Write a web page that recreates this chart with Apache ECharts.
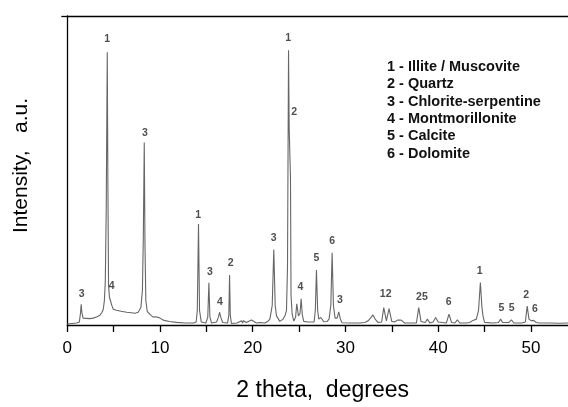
<!DOCTYPE html>
<html>
<head>
<meta charset="utf-8">
<script src="https://cdn.jsdelivr.net/npm/echarts@6/dist/echarts.min.js"></script>
<style>
html,body{margin:0;padding:0;background:#fff;}
#chart{width:568px;height:407px;}
</style>
</head>
<body>
<div id="chart"></div>
<script>
var twoTheta = [0.0,0.5,1.0,1.3,1.42,1.5,1.58,1.7,1.91,2.4,2.8,3.2,3.52,3.75,3.88,4.0,4.1,4.2,4.31,4.38,4.45,4.55,4.65,4.8,4.96,5.3,5.8,6.4,6.9,7.3,7.65,7.94,8.1,8.2,8.3,8.38,8.47,8.62,9.0,9.27,9.5,9.7,9.9,10.34,11.0,11.8,12.7,13.6,13.9,14.02,14.15,14.26,14.45,14.95,15.15,15.27,15.38,15.56,16.1,16.3,16.42,16.55,16.75,17.28,17.42,17.5,17.58,17.7,18.3,18.8,18.9,19.0,19.3,19.87,20.08,20.4,20.6,20.77,21.3,21.6,21.85,22.1,22.27,22.42,22.56,22.92,23.28,23.5,23.64,23.75,23.86,23.93,24.02,24.07,24.13,24.25,24.43,24.62,24.75,24.93,25.1,25.22,25.35,25.5,25.97,26.62,26.75,26.87,27.0,27.12,27.34,27.66,28.0,28.23,28.42,28.56,28.7,28.88,29.1,29.28,29.45,29.63,30.5,31.2,31.36,31.5,32.1,32.44,32.7,32.97,33.2,33.5,33.9,34.13,34.41,34.7,34.99,35.3,35.6,36.0,36.4,37.2,37.65,37.9,38.15,38.6,38.84,39.1,39.45,39.73,40.0,40.16,40.88,41.16,41.45,41.8,42.07,42.32,43.0,43.4,43.76,44.12,44.35,44.55,44.72,44.83,45.0,45.9,46.5,46.73,46.95,47.6,47.9,48.15,49.0,49.4,49.6,49.79,50.05,50.3,50.58,50.94,52.0,53.0,54.0];
var intensity = [1,1.5,2,3,12,21,12,7,6,6.5,7,8.5,10,13,16,25,45,120,278,140,40,28,25,20,16,15,14,13,12.5,12,13,18,35,90,186,80,25,14,10,8,8.5,10,7.5,5,3.5,2.7,2,2,3,15,103,15,3,2,8,43,8,2,3,8,13,8,2.5,2,10,51,10,1.5,2,4.3,2,4.3,2.5,5,3,2,3.5,2.5,2,3.5,6,20,77,20,9.3,3.7,6,10,15,60,280,200,199,150,30,11,4,8,21.7,9.3,12,26.7,10,3.7,3,3,15,56,15,6,7.7,3.3,3.5,6,20,73.7,20,7,7,13.3,6,2.3,2,2,4,2,2.5,4.3,7,10.3,6,2.7,3,17.7,4.3,16.7,3.7,3,5,5,2,2,2,17.7,3.5,2.5,6,2,3,7.7,3,2,2,11,2.5,2,5.3,2,2,2.5,4.7,6,15,43.3,18,9.3,2.7,2,2.5,6,2.5,2.5,5.3,2,2,3,19.3,6,4.3,4.7,2.5,2,2,1.8,2];

// peak annotation labels (position in data units, text)
var peakLabelX = [1.55,4.31,4.78,8.37,14.12,15.38,16.45,17.61,22.27,23.81,24.46,25.15,26.87,28.56,29.39,34.34,38.25,41.13,44.47,46.81,47.92,49.5,50.43];
var peakLabelY = [31.7,291.7,40,196,112,53.7,23.3,63.3,88.7,292.7,216.7,38.3,67.7,85.7,25.3,31.7,28.7,23.3,55.3,17,17,30.3,16.7];
var peakLabelText = ['3','1','4','3','1','3','4','2','3','1','2','4','5','6','3','12','25','6','1','5','5','2','6'];

// phase key
var phaseKey = ['1 - Illite / Muscovite','2 - Quartz','3 - Chlorite-serpentine','4 - Montmorillonite','5 - Calcite','6 - Dolomite'];

var xName = '2 theta,  degrees';
var yName = 'Intensity,   a.u.';

var lineData = twoTheta.map(function(x,i){return [x, intensity[i]];});
var labelData = peakLabelX.map(function(x,i){return [x, peakLabelY[i], peakLabelText[i]];});

var FONT = 'Liberation Sans, Arial, Helvetica, sans-serif';
var chart = echarts.init(document.getElementById('chart'), null, {renderer:'canvas'});
chart.setOption({
  animation:false,
  backgroundColor:'#ffffff',
  title:{
    text: phaseKey.join('\n'),
    left: 387, top: 58.5, padding: 0,
    textStyle:{fontFamily:FONT, fontSize:14.5, fontWeight:'bold', color:'#111', lineHeight:17.3}
  },
  grid:{left:67.3, right:0, top:16, bottom:76, containLabel:false},
  xAxis:[{
    type:'value', min:0, max:54, interval:5,
    axisLine:{show:true, onZero:false, lineStyle:{color:'#000', width:1.3}},
    axisTick:{show:true, inside:false, length:7, lineStyle:{color:'#000', width:1.3}},
    axisLabel:{show:true, margin:15, fontFamily:FONT, fontSize:17, color:'#000', showMaxLabel:false,
      formatter:function(v){return (v % 10 === 0) ? String(v) : '';}},
    splitLine:{show:false},
    name:xName, nameLocation:'middle', nameGap:54,
    nameTextStyle:{fontFamily:FONT, fontSize:23, color:'#000', padding:[0,0,0,10]}
  },{
    type:'value', position:'top', min:0, max:54,
    axisLine:{show:true, onZero:false, lineStyle:{color:'#000', width:1.3}},
    axisTick:{show:false}, axisLabel:{show:false}, splitLine:{show:false}
  }],
  yAxis:{
    type:'value', min:0, max:315,
    axisLine:{show:true, onZero:false, lineStyle:{color:'#000', width:1.3}},
    axisTick:{show:true, inside:false, length:6, customValues:[315], lineStyle:{color:'#000', width:1.3}},
    axisLabel:{show:false}, splitLine:{show:false},
    name:yName, nameLocation:'middle', nameGap:36, nameRotate:90,
    nameTextStyle:{fontFamily:FONT, fontSize:21, color:'#000', padding:[0,0,0,10]}
  },
  series:[{
    type:'line', data:lineData, showSymbol:false, symbol:'none',
    lineStyle:{color:'#666666', width:1.1}, silent:true, z:2
  },{
    type:'scatter', data:labelData, symbolSize:0, silent:true, z:3,
    label:{show:true, position:'inside', formatter:function(p){return p.data[2];},
      fontFamily:FONT, fontSize:10.5, fontWeight:'bold', color:'#222'}
  }]
});
</script>
</body>
</html>
